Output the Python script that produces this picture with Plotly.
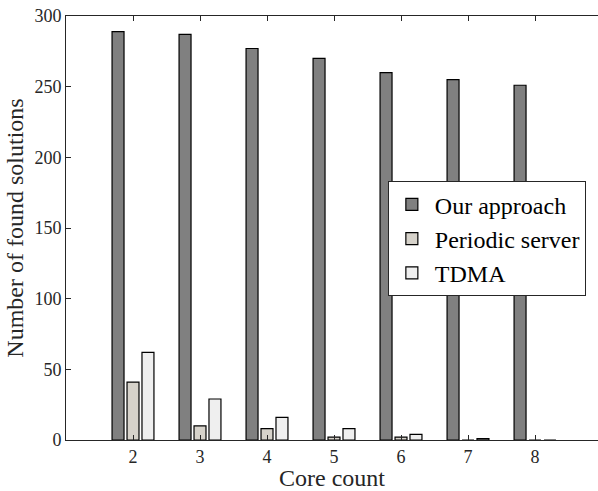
import plotly.graph_objects as go

cores = [2, 3, 4, 5, 6, 7, 8]
our_approach = [289, 287, 277, 270, 260, 255, 251]
periodic_server = [41, 10, 8, 2, 2, 0, 0]
tdma = [62, 29, 16, 8, 4, 1, 0]
y_ticks = [0, 50, 100, 150, 200, 250, 300]

FONT = "Liberation Serif, serif"

fig = go.Figure()
fig.add_trace(go.Bar(x=cores, y=our_approach, name="Our approach",
                     marker=dict(color="#808080", line=dict(color="#000000", width=1.2))))
fig.add_trace(go.Bar(x=cores, y=periodic_server, name="Periodic server",
                     marker=dict(color="#d6d2ca", line=dict(color="#000000", width=1.2))))
fig.add_trace(go.Bar(x=cores, y=tdma, name="TDMA",
                     marker=dict(color="#efefef", line=dict(color="#000000", width=1.2))))

fig.update_layout(
    width=598, height=491,
    margin=dict(l=66, r=0, t=16, b=51, autoexpand=False),
    paper_bgcolor="white", plot_bgcolor="white",
    barmode="group", bargap=0.33, bargroupgap=0.2,
    font=dict(family=FONT, color="#262626", size=18),
    showlegend=True,
    legend=dict(x=0.605, y=0.61, xanchor="left", yanchor="top",
                bgcolor="white", bordercolor="#262626", borderwidth=1,
                font=dict(family=FONT, size=24, color="#000000"),
                tracegroupgap=0, itemwidth=36),
)
fig.update_xaxes(
    range=[1, 8.94], tickmode="array", tickvals=cores, ticktext=[str(c) for c in cores],
    ticks="inside", ticklen=5, tickcolor="#262626", showline=True, linecolor="#262626",
    linewidth=1, mirror="ticks", showgrid=False, zeroline=False, automargin=False,
    title=dict(text="Core count", font=dict(family=FONT, size=24, color="#262626"), standoff=2),
    tickfont=dict(family=FONT, size=18, color="#262626"),
)
fig.update_yaxes(
    range=[0, 300], tickmode="array", tickvals=y_ticks,
    ticks="inside", ticklen=5, tickcolor="#262626", showline=True, linecolor="#262626",
    linewidth=1, mirror=False, showgrid=False, zeroline=False, automargin=False,
    title=dict(text="Number of found solutions", font=dict(family=FONT, size=24, color="#262626"), standoff=4),
    tickfont=dict(family=FONT, size=18, color="#262626"),
)

fig.write_html("out.html", config={"displayModeBar": False},
               post_script="document.body.style.margin='0';document.body.style.overflow='hidden';")
